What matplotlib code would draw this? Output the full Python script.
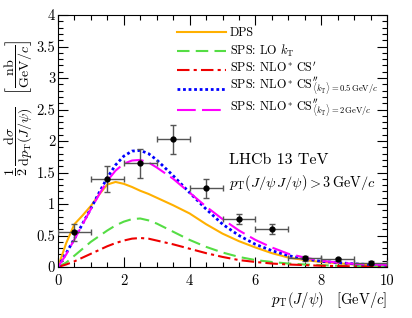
import matplotlib
matplotlib.use("Agg")
import matplotlib.pyplot as plt
from matplotlib.ticker import MultipleLocator, FuncFormatter

plt.rcParams['font.family'] = 'cmr10'
plt.rcParams['mathtext.fontset'] = 'cm'
plt.rcParams['axes.formatter.use_mathtext'] = True
plt.rcParams['font.size'] = 10

# measured data
data_x = [0.5, 1.5, 2.5, 3.5, 4.5, 5.5, 6.5, 7.5, 8.5, 9.5]
data_y = [0.55, 1.40, 1.65, 2.03, 1.25, 0.76, 0.60, 0.14, 0.12, 0.07]
data_yerr = [0.13, 0.21, 0.23, 0.23, 0.15, 0.08, 0.08, 0.04, 0.03, 0.02]
data_xerr = [0.5] * 10

# theory curves
curve_x = [0, 0.25, 0.5, 0.75, 1, 1.25, 1.5, 1.75, 2, 2.25, 2.5, 2.75, 3,
           3.5, 4, 4.5, 5, 5.5, 6, 6.5, 7, 7.5, 8, 8.5, 9, 9.5, 10]
dps = [0, 0.38, 0.68, 0.82, 0.97, 1.15, 1.31, 1.35, 1.32, 1.27, 1.21, 1.16, 1.10,
       0.98, 0.85, 0.68, 0.53, 0.41, 0.31, 0.22, 0.15, 0.11, 0.08, 0.06, 0.04, 0.03, 0.025]
lo_kt = [0, 0.07, 0.18, 0.29, 0.40, 0.49, 0.58, 0.66, 0.72, 0.76, 0.77, 0.74, 0.69,
         0.56, 0.43, 0.32, 0.23, 0.16, 0.11, 0.08, 0.055, 0.04, 0.03, 0.02, 0.015, 0.01, 0.008]
nlo_cs1 = [0, 0.04, 0.09, 0.15, 0.21, 0.27, 0.33, 0.38, 0.42, 0.45, 0.46, 0.45, 0.42,
           0.36, 0.29, 0.22, 0.16, 0.11, 0.08, 0.055, 0.04, 0.03, 0.02, 0.015, 0.01, 0.008, 0.006]
nlo_cs2_05 = [0, 0.22, 0.45, 0.69, 0.93, 1.18, 1.42, 1.62, 1.76, 1.84, 1.85, 1.80, 1.70,
              1.45, 1.18, 0.92, 0.68, 0.50, 0.36, 0.26, 0.18, 0.13, 0.09, 0.07, 0.05, 0.04, 0.03]
nlo_cs2_2 = [0, 0.20, 0.44, 0.68, 0.92, 1.15, 1.37, 1.53, 1.64, 1.69, 1.70, 1.66, 1.58,
             1.40, 1.18, 0.96, 0.76, 0.58, 0.43, 0.31, 0.21, 0.15, 0.10, 0.07, 0.05, 0.04, 0.035]

labels = [r"DPS",
          r"SPS: LO $k_\mathrm{T}$",
          r"SPS: NLO$^*\,$CS$^{\prime}$",
          r"SPS: NLO$^*\,$CS$^{\prime\prime}_{\langle k_\mathrm{T}\rangle = 0.5\,\mathrm{GeV}/c}$",
          r"SPS: NLO$^*\,$CS$^{\prime\prime}_{\langle k_\mathrm{T}\rangle = 2\,\mathrm{GeV}/c}$"]

series = [dps, lo_kt, nlo_cs1, nlo_cs2_05, nlo_cs2_2]
colors = ['#FFB000', '#55DD44', '#EE0000', '#0000FF', '#FF00FF']
styles = ['-', (0, (6, 3)), (0, (6, 2, 1.5, 2)), (0, (1, 1)), (0, (9, 3))]
widths = [1.5, 1.5, 1.5, 2.0, 1.5]

W, H = 412, 318
fig = plt.figure(figsize=(W / 100, H / 100), dpi=100)
L, R, T, B = 58, 387, 15, 267
ax = fig.add_axes([L / W, 1 - B / H, (R - L) / W, (B - T) / H])

for ys, c, s, w, lab in zip(series, colors, styles, widths, labels):
    ax.plot(curve_x, ys, color=c, lw=w, ls=s, label=lab)

ax.errorbar(data_x, data_y, xerr=data_xerr, yerr=data_yerr, fmt='o', color='black',
            ms=3.5, ecolor='#555555', elinewidth=1.0, capsize=2.5, capthick=1.0, zorder=5)

ax.set_xlim(0, 10)
ax.set_ylim(0, 4)
ax.xaxis.set_major_locator(MultipleLocator(2))
ax.xaxis.set_minor_locator(MultipleLocator(0.5))
ax.yaxis.set_major_locator(MultipleLocator(0.5))
ax.yaxis.set_minor_locator(MultipleLocator(0.1))
fmt = FuncFormatter(lambda v, p: f"{v:g}")
ax.xaxis.set_major_formatter(fmt)
ax.yaxis.set_major_formatter(fmt)
ax.tick_params(which='both', direction='in', top=True, right=True, labelsize=10.5)
ax.tick_params(which='major', length=7, width=0.8)
ax.tick_params(which='minor', length=3.5, width=0.8)
ax.tick_params(axis='x', pad=5)
ax.tick_params(axis='y', pad=2)

ax.text(10, -0.52, r"$p_\mathrm{T}(J/\psi)\quad[\mathrm{GeV}/c]$", ha='right', va='center', fontsize=10.5)
fig.text(19 / W, 1 - 108 / H,
         r"$\dfrac{1}{2}\,\dfrac{\mathrm{d}\sigma}{\mathrm{d}p_\mathrm{T}(J/\psi)}\quad\left[\dfrac{\mathrm{nb}}{\mathrm{GeV}/c}\right]$",
         rotation=90, ha='center', va='center', fontsize=10)

ax.text(5.2, 1.69, r"LHCb 13 TeV", fontsize=11.5, ha='left', va='center')
ax.text(5.2, 1.34, r"$p_\mathrm{T}(J/\psi\,J/\psi) > 3\,\mathrm{GeV}/c$", fontsize=10.3, ha='left', va='center')

# legend drawn by hand (pixel positions of rows)
line_y = [32, 51, 70, 88.5, 109.5]
text_base = [36, 55, 72.5, 89.5, 112]
hx0, hx1, tx = 177, 226, 230
for i in range(5):
    fy = (B - line_y[i]) / (B - T)
    ax.plot([(hx0 - L) / (R - L), (hx1 - L) / (R - L)], [fy, fy], transform=ax.transAxes,
            color=colors[i], lw=widths[i], ls=styles[i], clip_on=False)
    ax.text((tx - L) / (R - L), (B - text_base[i]) / (B - T), labels[i], transform=ax.transAxes,
            ha='left', va='baseline', fontsize=8.8)

fig.savefig("out.png", dpi=100)
